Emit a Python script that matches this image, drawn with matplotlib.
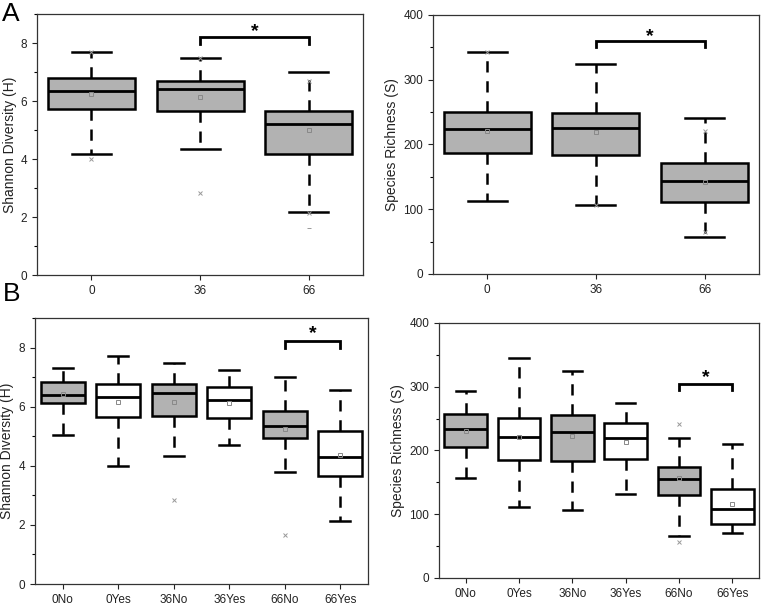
import matplotlib
matplotlib.use("Agg")
import matplotlib.pyplot as plt
from matplotlib.ticker import MultipleLocator

plt.rcParams['font.family'] = ['Liberation Sans', 'DejaVu Sans']

# ---- panel A : by time ----
groups_a = ["0", "36", "66"]
h_a_whislo = [4.17, 4.35, 2.17]
h_a_q1     = [5.73, 5.65, 4.17]
h_a_med    = [6.36, 6.42, 5.22]
h_a_q3     = [6.79, 6.70, 5.64]
h_a_whishi = [7.70, 7.47, 6.99]
h_a_mean   = [6.23, 6.14, 4.99]
h_a_xpos   = [0, 0, 1, 1, 2, 2]
h_a_xval   = [4.0, 7.7, 2.84, 7.47, 6.69, 2.15]
h_a_dashpos = [2]
h_a_dashval = [1.64]

s_a_whislo = [112, 107, 57]
s_a_q1     = [186, 184, 110.5]
s_a_med    = [223, 226, 144]
s_a_q3     = [250, 248, 171]
s_a_whishi = [343, 324, 241]
s_a_mean   = [221, 218.5, 142]
s_a_xpos   = [0, 1, 2, 2]
s_a_xval   = [343, 107, 220, 65]

# ---- panel B : by time and treatment ----
groups_b = ["0No", "0Yes", "36No", "36Yes", "66No", "66Yes"]
h_b_whislo = [5.05, 4.00, 4.34, 4.70, 3.80, 2.13]
h_b_q1     = [6.12, 5.66, 5.67, 5.63, 4.94, 3.64]
h_b_med    = [6.38, 6.33, 6.47, 6.24, 5.36, 4.29]
h_b_q3     = [6.84, 6.76, 6.76, 6.67, 5.84, 5.19]
h_b_whishi = [7.32, 7.72, 7.49, 7.25, 6.99, 6.55]
h_b_mean   = [6.42, 6.17, 6.15, 6.14, 5.26, 4.36]
h_b_xpos   = [2, 4]
h_b_xval   = [2.83, 1.65]

s_b_whislo = [156.5, 111.8, 107.1, 131, 65.7, 70.9]
s_b_q1     = [205.3, 184.3, 183.8, 187, 130, 84.6]
s_b_med    = [233.7, 220.5, 229.4, 220, 155, 107.7]
s_b_q3     = [257.8, 250.4, 256.2, 243, 174, 139.7]
s_b_whishi = [294, 344.4, 324.4, 275, 219.5, 209.5]
s_b_mean   = [230, 220.5, 222, 214, 156.5, 115.6]
s_b_xpos   = [4, 4]
s_b_xval   = [241.5, 56.7]

fills_a = ["#b2b2b2", "#b2b2b2", "#b2b2b2"]
fills_b = ["#b2b2b2", "white", "#b2b2b2", "white", "#b2b2b2", "white"]

fig = plt.figure(figsize=(7.62, 6.1), dpi=100)
axA1 = fig.add_axes([0.0486, 0.549, 0.428, 0.428])
axA2 = fig.add_axes([0.568, 0.551, 0.428, 0.4246])
axB1 = fig.add_axes([0.0459, 0.0426, 0.437, 0.436])
axB2 = fig.add_axes([0.576, 0.0525, 0.42, 0.418])


def draw(ax, labels, lo, q1, med, q3, hi, mean, fills, ylim, major, minor, ylabel):
    stats = []
    for i in range(len(labels)):
        stats.append(dict(whislo=lo[i], q1=q1[i], med=med[i], q3=q3[i],
                          whishi=hi[i], mean=mean[i], fliers=[]))
    pos = list(range(len(labels)))
    bp = ax.bxp(stats, positions=pos, widths=0.8, capwidths=0.36,
                patch_artist=True, showmeans=True, showfliers=False,
                boxprops=dict(linewidth=1.8, edgecolor="black"),
                medianprops=dict(color="black", linewidth=2.0),
                whiskerprops=dict(color="black", linewidth=1.8, linestyle=(0, (4.5, 3.5))),
                capprops=dict(color="black", linewidth=1.8),
                meanprops=dict(marker="s", markerfacecolor="none",
                               markeredgecolor="#888888", markersize=3.5,
                               markeredgewidth=0.7))
    for patch, c in zip(bp["boxes"], fills):
        patch.set_facecolor(c)
    ax.set_xlim(-0.5, len(labels) - 0.5)
    ax.set_ylim(*ylim)
    ax.set_xticks(pos)
    ax.set_xticklabels(labels)
    ax.yaxis.set_major_locator(MultipleLocator(major))
    ax.yaxis.set_minor_locator(MultipleLocator(minor))
    ax.tick_params(direction="out", labelsize=8.5, colors="#222222", width=0.8)
    ax.tick_params(which="minor", direction="out", length=2.5, width=0.8)
    ax.tick_params(axis="x", which="minor", length=0)
    for s in ax.spines.values():
        s.set_color("#333333")
        s.set_linewidth(0.9)
    ax.set_ylabel(ylabel, fontsize=10, color="#222222", labelpad=3)


def bracket(ax, x0, x1, y, leg, star_y):
    ax.plot([x0, x0, x1, x1], [y - leg, y, y, y - leg], color="black", lw=2.0,
            solid_joinstyle="miter")
    ax.text((x0 + x1) / 2, star_y, "*", ha="center", va="center",
            fontsize=14, fontweight="bold")


draw(axA1, groups_a, h_a_whislo, h_a_q1, h_a_med, h_a_q3, h_a_whishi, h_a_mean,
     fills_a, (0, 9), 2, 1, "Shannon Diversity (H)")
axA1.plot(h_a_xpos, h_a_xval, "x", color="#999999", ms=3, mew=0.7, zorder=5)
axA1.plot(h_a_dashpos, h_a_dashval, "_", color="#999999", ms=3, mew=0.7, zorder=5)
bracket(axA1, 1, 2, 8.2, 0.25, 8.38)

draw(axA2, groups_a, s_a_whislo, s_a_q1, s_a_med, s_a_q3, s_a_whishi, s_a_mean,
     fills_a, (0, 400), 100, 50, "Species Richness (S)")
axA2.plot(s_a_xpos, s_a_xval, "x", color="#999999", ms=3, mew=0.7, zorder=5)
bracket(axA2, 1, 2, 360, 10, 367)

draw(axB1, groups_b, h_b_whislo, h_b_q1, h_b_med, h_b_q3, h_b_whishi, h_b_mean,
     fills_b, (0, 9), 2, 1, "Shannon Diversity (H)")
axB1.plot(h_b_xpos, h_b_xval, "x", color="#999999", ms=3, mew=0.7, zorder=5)
bracket(axB1, 4, 5, 8.23, 0.25, 8.47)

draw(axB2, groups_b, s_b_whislo, s_b_q1, s_b_med, s_b_q3, s_b_whishi, s_b_mean,
     fills_b, (0, 400), 100, 50, "Species Richness (S)")
axB2.plot(s_b_xpos, s_b_xval, "x", color="#999999", ms=3, mew=0.7, zorder=5)
bracket(axB2, 4, 5, 305, 10, 314)

fig.text(0.002, 0.997, "A", fontsize=19, va="top", ha="left")
fig.text(0.004, 0.537, "B", fontsize=19, va="top", ha="left")

fig.savefig("out.png", dpi=100)
